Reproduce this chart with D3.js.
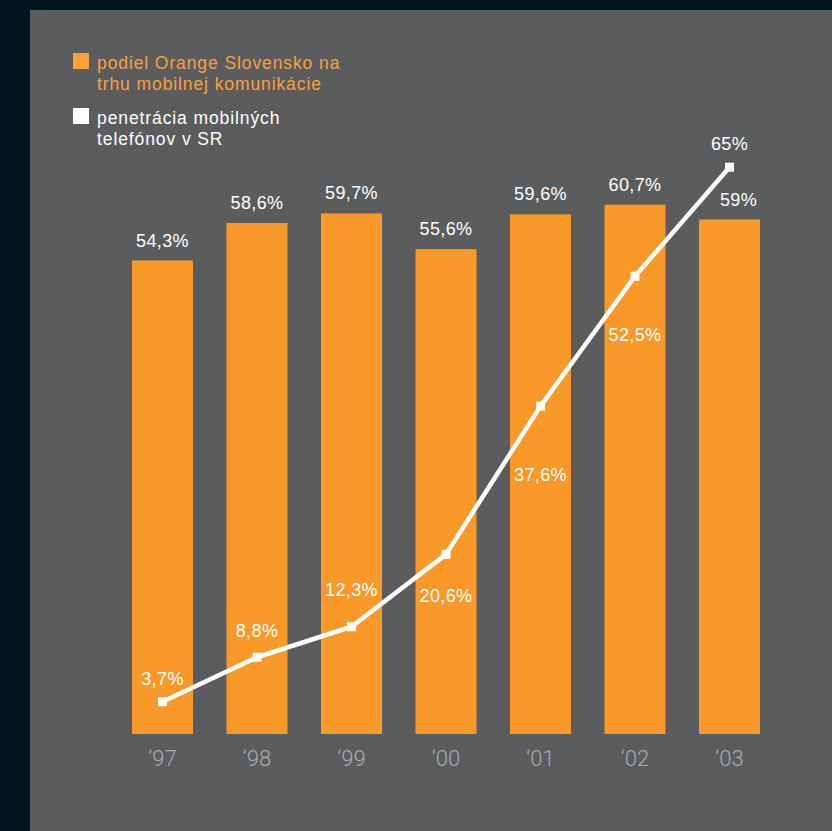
<!DOCTYPE html>
<html>
<head>
<meta charset="utf-8">
<script src="https://cdn.jsdelivr.net/npm/d3@7"></script>
<style>
  html, body { margin: 0; padding: 0; background: #011520; }
  svg { display: block; }
</style>
</head>
<body>
<svg id="chart" width="832" height="831"></svg>
<script>
// Years on the horizontal axis
const years = ["‘97", "‘98", "‘99", "‘00", "‘01", "‘02", "‘03"];
// Orange Slovensko share of the mobile market (%)
const marketShare = [54.3, 58.6, 59.7, 55.6, 59.6, 60.7, 59];
// Mobile phone penetration in Slovakia (%)
const penetration = [3.7, 8.8, 12.3, 20.6, 37.6, 52.5, 65];
// Legend entries
const legendShare = ["podiel Orange Slovensko na", "trhu mobilnej komunikácie"];
const legendPen = ["penetrácia mobilných", "telefónov v SR"];

const ORANGE = "#f8992a";
const PANEL = "#5b5c5e";
const FONT = "'Liberation Sans', Arial, Helvetica, sans-serif";

const svg = d3.select("#chart");

// grey panel on the dark page
svg.append("rect")
  .attr("x", 30).attr("y", 10)
  .attr("width", 802).attr("height", 821)
  .attr("fill", PANEL);

const x = d3.scaleBand()
  .domain(years)
  .range([115.25, 776.75])
  .paddingInner(0.354)
  .paddingOuter(0.177);

const y = d3.scaleLinear()
  .domain([0, 65])
  .range([734, 734 - 65 * 8.72]);

const fmt = v => (Number.isInteger(v) ? String(v) : v.toFixed(1).replace(".", ",")) + "%";
const cx = i => x(years[i]) + x.bandwidth() / 2;

// bars
svg.append("g").selectAll("rect")
  .data(marketShare)
  .join("rect")
  .attr("x", (d, i) => x(years[i]))
  .attr("y", d => y(d))
  .attr("width", x.bandwidth())
  .attr("height", d => y(0) - y(d))
  .attr("fill", ORANGE);

// bar value labels (the last one nudged right, clear of the line)
const barLabelDx = [0, 0, 0, 0, 0, 0, 9];
svg.append("g").selectAll("text")
  .data(marketShare)
  .join("text")
  .attr("x", (d, i) => cx(i) + barLabelDx[i])
  .attr("y", d => y(d) - 14)
  .attr("text-anchor", "middle")
  .attr("font-family", FONT)
  .attr("font-size", 18)
  .attr("letter-spacing", 0.4)
  .attr("fill", "#ffffff")
  .text(d => fmt(d));

// penetration line
const line = d3.line()
  .x((d, i) => cx(i))
  .y(d => y(d));

svg.append("path")
  .datum(penetration)
  .attr("d", line)
  .attr("fill", "none")
  .attr("stroke", "#ffffff")
  .attr("stroke-width", 4.5)
  .attr("stroke-linejoin", "round");

const M = 9;
svg.append("g").selectAll("rect")
  .data(penetration)
  .join("rect")
  .attr("x", (d, i) => cx(i) - M / 2)
  .attr("y", d => y(d) - M / 2)
  .attr("width", M)
  .attr("height", M)
  .attr("fill", "#ffffff");

// penetration labels: baseline offset from each point
const penLabelDy = [-17, -20, -31, 48, 75, 65, -17];
svg.append("g").selectAll("text")
  .data(penetration)
  .join("text")
  .attr("x", (d, i) => cx(i))
  .attr("y", (d, i) => y(d) + penLabelDy[i])
  .attr("text-anchor", "middle")
  .attr("font-family", FONT)
  .attr("font-size", 18)
  .attr("letter-spacing", 0.4)
  .attr("fill", "#ffffff")
  .text(d => fmt(d));

// x axis
const xAxis = svg.append("g")
  .attr("transform", `translate(0,${y(0)})`)
  .call(d3.axisBottom(x).tickSize(0));
xAxis.select(".domain").remove();
xAxis.selectAll("text")
  .attr("y", 32)
  .attr("dy", 0)
  .attr("font-family", "Roboto, 'Liberation Sans', sans-serif")
  .attr("font-weight", 300)
  .attr("font-size", 22)
  .attr("fill", "#a9aaac");

// legend
const legend = svg.append("g").attr("font-family", FONT).attr("font-size", 17.5).attr("letter-spacing", 0.9);
legend.append("rect").attr("x", 73).attr("y", 53).attr("width", 16).attr("height", 16).attr("fill", "#f9a13c");
legend.append("text").attr("x", 97).attr("fill", "#f9a13c")
  .selectAll("tspan").data(legendShare).join("tspan")
  .attr("x", 97).attr("y", (d, i) => 68.5 + i * 21.5).text(d => d);
legend.append("rect").attr("x", 73).attr("y", 108).attr("width", 16).attr("height", 16).attr("fill", "#ffffff");
legend.append("text").attr("fill", "#ffffff")
  .selectAll("tspan").data(legendPen).join("tspan")
  .attr("x", 97).attr("y", (d, i) => 123.5 + i * 21).text(d => d);
</script>
</body>
</html>
